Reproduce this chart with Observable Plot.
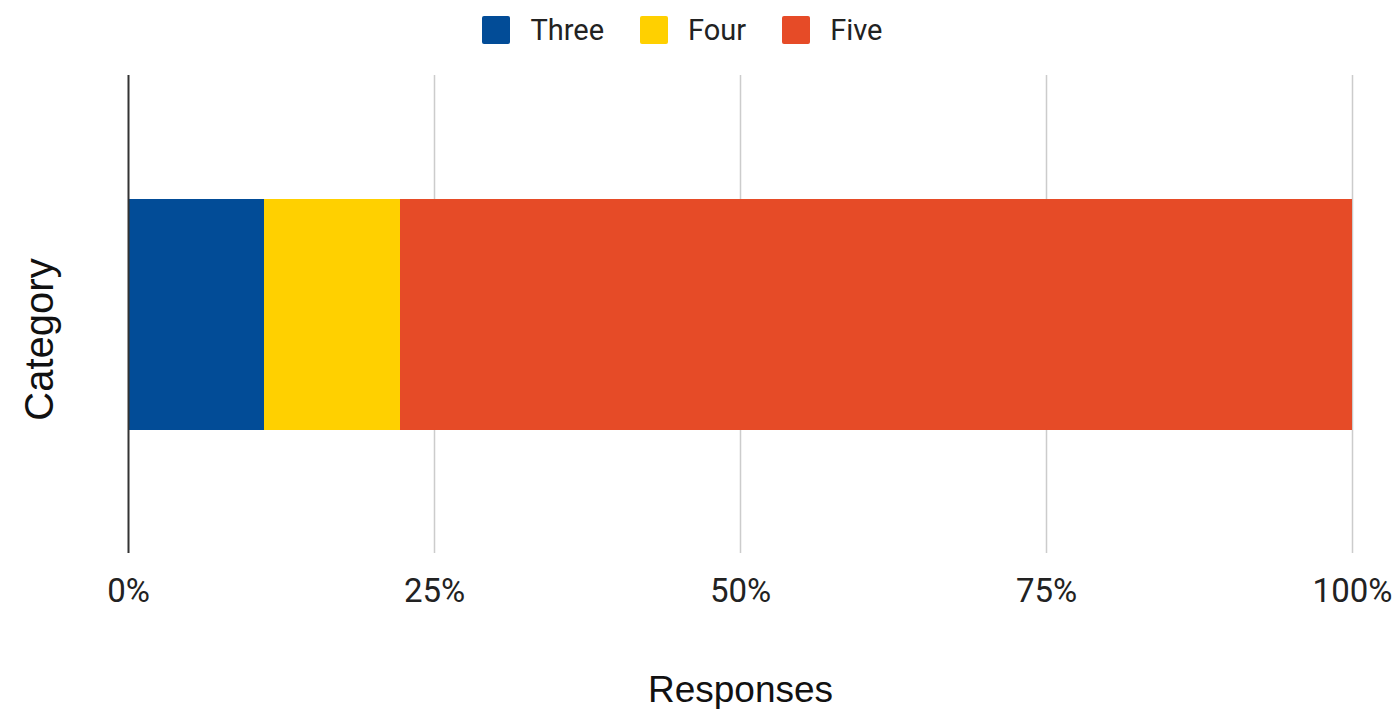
<!DOCTYPE html>
<html>
<head>
<meta charset="utf-8">
<script src="https://cdn.jsdelivr.net/npm/d3@7"></script>
<script src="https://cdn.jsdelivr.net/npm/@observablehq/plot@0.6"></script>
<style>
  html, body { margin: 0; padding: 0; background: #fff; }
  #legend {
    height: 60px; display: flex; justify-content: center; align-items: center;
    font-family: Roboto, sans-serif; font-size: 29px; color: #222;
    transform: translateX(-17px);
  }
  .item { display: flex; align-items: center; margin: 0 18px; }
  .swatch { width: 28px; height: 28px; border-radius: 2px; margin-right: 20px; }
  svg { display: block; }
</style>
</head>
<body>
<div id="legend"></div>
<div id="chart"></div>
<script>
// Answer options, their response counts and colours
const answers = ["Three", "Four", "Five"];
const counts = [1, 1, 7];
const colors = ["#024c97", "#ffd000", "#e64b27"];
const rowName = "Category";
const percentTicks = [0, 0.25, 0.5, 0.75, 1];

const rows = answers.map((a, i) => ({row: rowName, answer: a, count: counts[i]}));

// Legend above the chart
const legend = document.getElementById("legend");
answers.forEach((a, i) => {
  const item = document.createElement("div");
  item.className = "item";
  const sw = document.createElement("span");
  sw.className = "swatch";
  sw.style.background = colors[i];
  const label = document.createElement("span");
  label.textContent = a;
  item.append(sw, label);
  legend.append(item);
});

const chart = Plot.plot({
  width: 1399,
  height: 649,
  marginTop: 15,
  marginBottom: 156,
  marginLeft: 128,
  marginRight: 47,
  x: {domain: [0, 1], axis: null},
  y: {domain: [rowName], padding: 0.348, axis: null},
  color: {domain: answers, range: colors},
  marks: [
    Plot.ruleX(percentTicks.slice(1), {stroke: "#cccccc", strokeWidth: 1.5}),
    Plot.barX(rows, Plot.stackX({
      x: "count", y: "row", fill: "answer", offset: "normalize", order: answers
    })),
    Plot.ruleX([0], {stroke: "#333333", strokeWidth: 2}),
    Plot.axisX({
      ticks: percentTicks, tickFormat: d3.format(".0%"), tickSize: 0, tickPadding: 25,
      fontSize: 33, fontFamily: "Roboto", fill: "#222", label: null
    }),
    Plot.text(["Responses"], {
      frameAnchor: "bottom", lineAnchor: "middle", dy: 137,
      fontSize: 37, fontFamily: "Liberation Sans", fill: "#111"
    }),
    Plot.text([rowName], {
      frameAnchor: "left", textAnchor: "middle", rotate: -90, dx: -88, dy: 25,
      fontSize: 40, fontFamily: "Liberation Sans", fill: "#111"
    })
  ]
});
document.getElementById("chart").append(chart);
</script>
</body>
</html>
